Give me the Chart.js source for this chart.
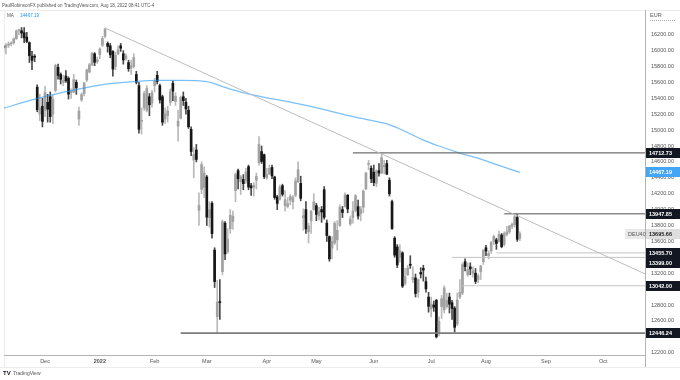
<!DOCTYPE html>
<html><head><meta charset="utf-8">
<script src="https://cdn.jsdelivr.net/npm/chart.js"></script>
<style>html,body{margin:0;padding:0;background:#fff;}canvas{display:block;}</style>
</head><body>
<canvas id="c" width="680" height="380"></canvas>
<script>
// ---------------- data ----------------
const dates = [
'2021-11-09','2021-11-10','2021-11-11','2021-11-12','2021-11-15','2021-11-16','2021-11-17','2021-11-18','2021-11-19','2021-11-22','2021-11-23','2021-11-24','2021-11-25','2021-11-26','2021-11-29','2021-11-30',
'2021-12-01','2021-12-02','2021-12-03','2021-12-06','2021-12-07','2021-12-08','2021-12-09','2021-12-10','2021-12-13','2021-12-14','2021-12-15','2021-12-16','2021-12-17','2021-12-20','2021-12-21','2021-12-22','2021-12-23','2021-12-27','2021-12-28','2021-12-29','2021-12-30',
'2022-01-03','2022-01-04','2022-01-05','2022-01-06','2022-01-07','2022-01-10','2022-01-11','2022-01-12','2022-01-13','2022-01-14','2022-01-17','2022-01-18','2022-01-19','2022-01-20','2022-01-21','2022-01-24','2022-01-25','2022-01-26','2022-01-27','2022-01-28','2022-01-31',
'2022-02-01','2022-02-02','2022-02-03','2022-02-04','2022-02-07','2022-02-08','2022-02-09','2022-02-10','2022-02-11','2022-02-14','2022-02-15','2022-02-16','2022-02-17','2022-02-18','2022-02-21','2022-02-22','2022-02-23','2022-02-24','2022-02-25','2022-02-28',
'2022-03-01','2022-03-02','2022-03-03','2022-03-04','2022-03-07','2022-03-08','2022-03-09','2022-03-10','2022-03-11','2022-03-14','2022-03-15','2022-03-16','2022-03-17','2022-03-18','2022-03-21','2022-03-22','2022-03-23','2022-03-24','2022-03-25','2022-03-28','2022-03-29','2022-03-30','2022-03-31',
'2022-04-01','2022-04-04','2022-04-05','2022-04-06','2022-04-07','2022-04-08','2022-04-11','2022-04-12','2022-04-13','2022-04-14','2022-04-19','2022-04-20','2022-04-21','2022-04-22','2022-04-25','2022-04-26','2022-04-27','2022-04-28','2022-04-29',
'2022-05-02','2022-05-03','2022-05-04','2022-05-05','2022-05-06','2022-05-09','2022-05-10','2022-05-11','2022-05-12','2022-05-13','2022-05-16','2022-05-17','2022-05-18','2022-05-19','2022-05-20','2022-05-23','2022-05-24','2022-05-25','2022-05-26','2022-05-27','2022-05-30','2022-05-31',
'2022-06-01','2022-06-02','2022-06-03','2022-06-06','2022-06-07','2022-06-08','2022-06-09','2022-06-10','2022-06-13','2022-06-14','2022-06-15','2022-06-16','2022-06-17','2022-06-20','2022-06-21','2022-06-22','2022-06-23','2022-06-24','2022-06-27','2022-06-28','2022-06-29','2022-06-30',
'2022-07-01','2022-07-04','2022-07-05','2022-07-06','2022-07-07','2022-07-08','2022-07-11','2022-07-12','2022-07-13','2022-07-14','2022-07-15','2022-07-18','2022-07-19','2022-07-20','2022-07-21','2022-07-22','2022-07-25','2022-07-26','2022-07-27','2022-07-28','2022-07-29',
'2022-08-01','2022-08-02','2022-08-03','2022-08-04','2022-08-05','2022-08-08','2022-08-09','2022-08-10','2022-08-11','2022-08-12','2022-08-15','2022-08-16','2022-08-17','2022-08-18'];

const futureDates = [
'2022-08-19','2022-08-22','2022-08-23','2022-08-24','2022-08-25','2022-08-26','2022-08-29','2022-08-30','2022-08-31',
'2022-09-01','2022-09-02','2022-09-05','2022-09-06','2022-09-07','2022-09-08','2022-09-09','2022-09-12','2022-09-13','2022-09-14','2022-09-15','2022-09-16','2022-09-19','2022-09-20','2022-09-21','2022-09-22','2022-09-23','2022-09-26','2022-09-27','2022-09-28','2022-09-29','2022-09-30',
'2022-10-03','2022-10-04','2022-10-05','2022-10-06','2022-10-07','2022-10-10','2022-10-11','2022-10-12','2022-10-13','2022-10-14','2022-10-17','2022-10-18','2022-10-19','2022-10-20','2022-10-21','2022-10-24','2022-10-25'];

const open = [
16050,16040,16070,16085,16100,16150,16250,16250,16225,16170,16100,15930,15930,15540,15200,15300,
15250,15350,15420,15200,15500,15790,15700,15600,15680,15650,15470,15480,15600,15140,15380,15460,15630,15730,15820,15960,15860,
15950,16070,16180,16090,16060,15990,15800,15960,16060,15960,15900,15850,15780,15800,15700,15560,15110,15280,15250,15420,15340,
15560,15690,15560,15420,15140,15180,15350,15590,15360,15050,15150,15420,15350,15250,15010,14625,14750,13990,14255,14280,
14410,13900,14080,13490,12653,12840,13220,13830,13470,13760,13850,14240,14490,14350,14380,14360,14540,14300,14280,14370,14590,14730,14690,
14400,14450,14530,14410,14160,14130,14300,14050,14040,14120,14100,14180,14350,14330,13900,14000,13720,13860,14000,
14050,13920,14000,14250,13830,13660,13516,13580,13620,13800,14000,14040,14180,13820,13900,13990,14037,13950,14030,14260,14570,14520,
14470,14330,14490,14460,14540,14580,14370,14100,13640,13530,13400,13455,13073,13180,13310,13120,13140,12960,13210,13260,13094,12900,
12750,12800,12860,12450,12780,12740,12780,12900,12830,12760,12560,12900,12950,13345,13180,13280,13200,13200,13120,13218,13345,
13520,13420,13480,13600,13620,13600,13680,13560,13690,13720,13790,13810,13900,13640];

const high = [
16080,16090,16110,16110,16160,16260,16270,16290,16290,16230,16110,15990,15950,15570,15450,15400,
15550,15450,15480,15440,15830,15830,15720,15690,15750,15670,15520,15700,15630,15290,15470,15600,15770,15840,15980,15975,15920,
16035,16180,16285,16110,16090,16000,15980,16060,16090,16000,15960,15880,15880,15960,15740,15600,15280,15490,15560,15460,15500,
15650,15740,15580,15440,15280,15300,15520,15620,15470,15250,15430,15480,15400,15300,15040,14780,14820,14210,14600,14540,
14430,14100,14100,13520,13110,13120,13870,13850,13760,14000,13980,14460,14510,14430,14440,14520,14560,14330,14340,14460,14920,14800,14700,
14520,14560,14560,14420,14180,14310,14320,14240,14150,14190,14180,14400,14600,14420,14010,14100,13830,13990,14200,
14080,14030,14040,14290,13870,13670,13660,13850,13860,14060,14040,14210,14190,13920,14100,14190,14120,14040,14250,14470,14620,14550,
14560,14500,14580,14712,14620,14620,14400,14120,13660,13560,13560,13470,13260,13300,13420,13280,13190,13130,13270,13300,13150,12960,
12900,12850,12870,12650,12920,13040,12950,12950,12860,12780,12950,13120,13330,13380,13330,13330,13280,13260,13190,13300,13500,
13550,13480,13600,13680,13640,13730,13700,13720,13790,13800,13830,13940,13948,13720];

const low = [
15990,15960,16040,16060,16080,16140,16200,16160,16100,16100,15850,15760,15860,15230,15120,15040,
15170,15100,15100,15080,15480,15640,15580,15560,15600,15390,15400,15470,15450,15060,15360,15430,15610,15720,15810,15810,15840,
15900,16050,16160,15980,15910,15680,15760,15950,15990,15830,15880,15740,15700,15780,15580,14960,14950,15250,15230,15180,15290,
15480,15580,15340,15060,15080,15100,15310,15370,15310,14860,15140,15310,15200,15020,14680,14400,14600,13800,14200,14150,
13800,13780,13640,13020,12446,12620,13180,13370,13450,13700,13750,14100,14260,14190,14250,14330,14250,14180,14170,14260,14560,14580,14390,
14380,14440,14390,14130,14000,14120,14170,13980,14020,14060,14010,14160,14340,14110,13740,13700,13580,13700,13990,
13860,13870,13840,13880,13600,13350,13380,13560,13490,13790,13900,14030,13960,13800,13830,13970,13880,13860,13960,14250,14500,14340,
14300,14290,14420,14450,14450,14440,14170,13750,13400,13270,13340,13020,13050,13170,13260,13080,12900,12900,13140,13100,12960,12710,
12650,12720,12385,12410,12630,12700,12760,12700,12620,12460,12540,12880,12930,13230,13160,13180,13150,13070,13080,13120,13310,
13420,13380,13450,13560,13500,13590,13520,13540,13670,13700,13760,13780,13600,13610];

const close = [
16040,16067,16083,16094,16148,16247,16251,16221,16160,16116,15937,15878,15917,15257,15281,15110,
15473,15263,15170,15387,15813,15687,15639,15623,15621,15453,15476,15636,15532,15239,15447,15593,15756,15821,15964,15853,15885,
16021,16152,16271,16053,15948,15768,15942,16011,16031,15883,15933,15773,15810,15912,15603,15011,15123,15460,15524,15318,15471,
15619,15613,15380,15100,15206,15242,15482,15490,15425,15113,15412,15370,15267,15042,14731,14693,14631,14052,14567,14461,
13905,14000,13698,13094,12835,12831,13848,13442,13628,13929,13917,14441,14388,14413,14326,14474,14283,14274,14306,14417,14820,14606,14415,
14446,14519,14424,14152,14078,14284,14193,14125,14076,14164,14153,14362,14502,14142,13924,13757,13794,13979,14098,
13940,13981,13970,13903,13674,13380,13600,13828,13739,14027,13964,14185,14008,13882,13982,14175,13919,14008,14231,14462,14575,14388,
14340,14485,14460,14653,14556,14446,14199,13762,13427,13304,13483,13038,13156,13265,13300,13145,12945,13118,13190,13240,13003,12783,
12813,12773,12401,12595,12880,13015,12860,12810,12756,12519,12864,12959,13308,13282,13246,13254,13230,13097,13166,13290,13484,
13479,13449,13587,13662,13574,13688,13535,13700,13720,13795,13816,13910,13627,13696];

// 200-period moving average, read at sample dates
const maDates  = ['2021-11-09','2021-11-24','2021-12-13','2022-01-03','2022-01-20','2022-02-02','2022-02-16','2022-03-01','2022-03-08','2022-03-14','2022-03-25','2022-04-13','2022-05-03','2022-05-20','2022-06-08','2022-06-15','2022-06-28','2022-07-06','2022-07-18','2022-07-28','2022-08-08','2022-08-18'];
const maValues = [15274,15379,15483,15567,15609,15626,15626,15609,15561,15517,15441,15357,15274,15169,15077,15014,14875,14800,14712,14636,14555,14467.19];

// descending trend line
const trendDates  = ['2022-01-05','2022-10-25'];
const trendValues = [16285,13191];

// horizontal levels
const levelValues = [14712.73,13947.85,13455.70,13399.00,13042.00,12446.24];
const levelStart  = ['2022-05-20','2022-08-10','2022-08-05','2022-07-13','2022-07-19','2022-02-15'];

// x-axis tick labels
const tickDates  = ['2021-12-01','2022-01-03','2022-02-01','2022-03-01','2022-04-01','2022-05-02','2022-06-01','2022-07-01','2022-08-01','2022-09-01','2022-10-03'];
const tickLabels = ['Dec','2022','Feb','Mar','Apr','May','Jun','Jul','Aug','Sep','Oct'];

const symbol = 'DEU40';
const lastPrice = 13695.66;
const maLast = 14467.19;
const headerText = 'PaulRobinsonFX published on TradingView.com, Aug 18, 2022 08:41 UTC-4';

// ---------------- build ----------------
const allDates = dates.concat(futureDates);
const ix = d => allDates.indexOf(d);
const lastIx = allDates.length - 1;

const FONT = '"Liberation Sans", Arial, sans-serif';
const UP_BODY = '#a2a2a2', DN_BODY = '#161616', UP_WICK = '#b9b9b9', DN_WICK = '#4a4a4a';
const isUp = i => close[i] >= open[i];

const wickData = dates.map((d, i) => ({x: i, y: [low[i], high[i]]}));
const bodyData = dates.map((d, i) => ({x: i, y: [open[i], close[i]]}));
const maData = maDates.map((d, k) => ({x: ix(d), y: maValues[k]}));

const levelStyles = [
  {c: '#6e6e6e', w: 1.3}, {c: '#8c8c8c', w: 1.3}, {c: '#c4c4c4', w: 1},
  {c: '#c4c4c4', w: 1}, {c: '#c4c4c4', w: 1}, {c: '#7c7c7c', w: 1.6}
];

const datasets = [];
datasets.push({type: 'line', data: trendDates.map((d, k) => ({x: ix(d), y: trendValues[k]})),
  borderColor: '#bdbdbd', borderWidth: 1, pointRadius: 0, order: 0});
levelValues.forEach((v, k) => {
  datasets.push({type: 'line', data: [{x: ix(levelStart[k]), y: v}, {x: lastIx, y: v}],
    borderColor: levelStyles[k].c, borderWidth: levelStyles[k].w, pointRadius: 0, order: 0});
});
datasets.push({type: 'line', data: maData, borderColor: 'rgba(33,150,243,0.6)', borderWidth: 1.3,
  pointRadius: 0, cubicInterpolationMode: 'monotone', order: 0});
datasets.push({type: 'bar', data: bodyData, barThickness: 2, minBarLength: 1, grouped: false, order: 1,
  backgroundColor: c => isUp(c.dataIndex) ? UP_BODY : DN_BODY, borderWidth: 0});
datasets.push({type: 'bar', data: wickData, barThickness: 1, grouped: false, order: 2,
  backgroundColor: c => isUp(c.dataIndex) ? UP_WICK : DN_WICK, borderWidth: 0});

const tickIdx = tickDates.map(ix);

const frame = {
  id: 'frame',
  beforeDraw(chart) {
    const ctx = chart.ctx;
    ctx.save();
    ctx.fillStyle = '#fff';
    ctx.fillRect(0, 0, 680, 380);
    ctx.strokeStyle = '#ececec'; ctx.lineWidth = 1;
    ctx.beginPath();
    ctx.moveTo(0, 10.5); ctx.lineTo(680, 10.5);
    ctx.moveTo(4.5, 10); ctx.lineTo(4.5, 367);
    ctx.moveTo(0, 367.5); ctx.lineTo(680, 367.5);
    ctx.stroke();
    ctx.strokeStyle = '#b4b4b4';
    ctx.beginPath(); ctx.moveTo(645.5, 10); ctx.lineTo(645.5, 367); ctx.stroke();
    ctx.restore();
  },
  afterDraw(chart) {
    const ctx = chart.ctx, y = chart.scales.y;
    ctx.save();
    ctx.textBaseline = 'middle'; ctx.textAlign = 'left';
    // header
    ctx.font = '4.5px ' + FONT; ctx.fillStyle = '#555';
    ctx.fillText(headerText, 2, 6);
    // MA legend
    ctx.font = '4.6px ' + FONT; ctx.fillStyle = '#555';
    ctx.fillText('MA', 7, 15.5);
    ctx.fillStyle = '#2196f3';
    ctx.fillText(maLast.toFixed(2), 20, 15.5);
    // currency
    ctx.font = '5.5px ' + FONT; ctx.fillStyle = '#555';
    ctx.fillText('EUR', 650, 15);
    ctx.strokeStyle = '#aaa'; ctx.setLineDash([1, 1]);
    ctx.beginPath(); ctx.moveTo(650, 20.5); ctx.lineTo(676, 20.5); ctx.stroke();
    ctx.setLineDash([]);
    // logo
    ctx.font = 'bold 6px ' + FONT; ctx.fillStyle = '#131722';
    ctx.fillText('TV', 3, 373.5);
    ctx.font = '5px ' + FONT; ctx.fillStyle = '#555';
    ctx.fillText('TradingView', 13, 373.5);

    const box = (yp, txt, bg, fg, x0, w) => {
      ctx.fillStyle = bg;
      ctx.fillRect(x0, Math.round(yp) - 5, w, 10);
      ctx.fillStyle = fg;
      ctx.fillText(txt, x0 + 3, Math.round(yp) + 0.5);
    };
    ctx.font = 'bold 5.5px ' + FONT;
    // level boxes with collision avoidance
    const items = levelValues.map(v => ({v, yp: y.getPixelForValue(v)})).sort((a, b) => a.yp - b.yp);
    for (let k = 1; k < items.length; k++) {
      if (items[k].yp < items[k - 1].yp + 10.5) items[k].yp = items[k - 1].yp + 10.5;
    }
    items.forEach(it => box(it.yp, it.v.toFixed(2), '#131722', '#fff', 646, 34));
    // MA box
    box(y.getPixelForValue(maLast), maLast.toFixed(2), '#42a5f5', '#fff', 646, 34);
    // last price + symbol
    const yp = y.getPixelForValue(lastPrice);
    box(yp, lastPrice.toFixed(2), '#dedede', '#222', 646, 34);
    ctx.font = '5.5px ' + FONT;
    box(yp, symbol, '#e9e9e9', '#555', 625, 20);
    ctx.restore();
  }
};

new Chart(document.getElementById('c'), {
  data: {datasets},
  plugins: [frame],
  options: {
    responsive: false, animation: false, devicePixelRatio: 1,
    layout: {padding: {left: 4, top: 10, right: 0, bottom: 0}},
    plugins: {legend: {display: false}, tooltip: {enabled: false}},
    scales: {
      x: {
        type: 'linear', min: 0.27, max: 245.96, offset: false,
        grid: {display: false, drawTicks: false, offset: false},
        border: {color: '#b4b4b4'},
        afterBuildTicks: s => { s.ticks = tickIdx.map(v => ({value: v})); },
        afterFit: s => { s.height = 25; },
        ticks: {
          autoSkip: false, maxRotation: 0, padding: 3, color: '#555',
          font: c => ({family: FONT, size: 5.5, weight: (c.tick && c.tick.value === tickIdx[1]) ? 'bold' : 'normal'}),
          callback: v => { const k = tickIdx.indexOf(v); return k >= 0 ? tickLabels[k] : ''; }
        }
      },
      y: {
        position: 'right', min: 12171, max: 16511,
        grid: {display: false, drawTicks: false},
        border: {color: '#b4b4b4'},
        afterFit: s => { s.width = 35; },
        ticks: {
          stepSize: 200, includeBounds: false, padding: 6, color: '#555',
          font: {family: FONT, size: 5.5},
          callback: v => v > 16250 ? null : v.toFixed(2)
        }
      }
    }
  }
});
</script>
</body></html>
